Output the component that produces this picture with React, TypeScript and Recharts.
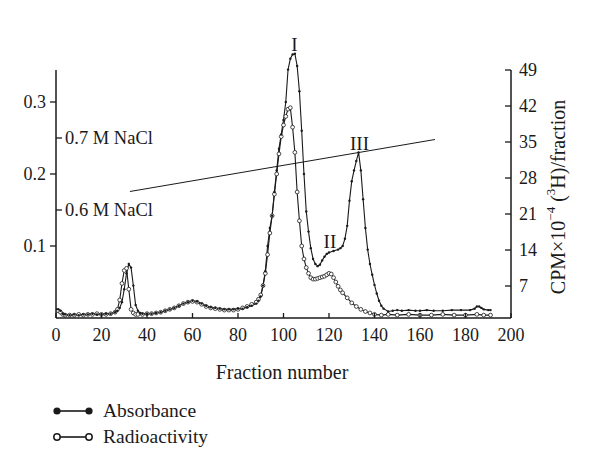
import React from 'react';
import { LineChart, Line, XAxis, YAxis, ReferenceLine, ReferenceDot } from 'recharts';

// ---- data ----
const absFraction = [0, 1, 2, 3, 4, 6, 8, 10, 12, 14, 16, 18, 20, 22, 24, 26, 27, 28, 29, 30, 31, 32, 33, 34, 35, 36, 37, 38, 40, 42, 44, 46, 48, 50, 52, 54, 56, 58, 60, 62, 64, 66, 68, 70, 72, 74, 76, 78, 80, 82, 84, 86, 88, 89, 90, 91, 92, 93, 94, 95, 96, 97, 98, 99, 100, 101, 102, 103, 104, 105, 106, 107, 108, 109, 110, 111, 112, 113, 114, 115, 116, 117, 118, 119, 120, 122, 124, 125, 126, 127, 128, 129, 130, 131, 132, 133, 134, 135, 136, 137, 138, 139, 140, 141, 142, 143, 144, 146, 148, 150, 152, 155, 158, 160, 163, 166, 170, 174, 178, 182, 184, 185, 186, 187, 188, 190, 191];
const absValue = [0.012, 0.012, 0.010, 0.006, 0.005, 0.004, 0.005, 0.004, 0.005, 0.005, 0.006, 0.005, 0.005, 0.006, 0.006, 0.008, 0.010, 0.014, 0.022, 0.040, 0.062, 0.075, 0.070, 0.045, 0.018, 0.010, 0.007, 0.006, 0.006, 0.006, 0.007, 0.008, 0.010, 0.012, 0.014, 0.017, 0.020, 0.022, 0.024, 0.023, 0.020, 0.017, 0.015, 0.014, 0.013, 0.012, 0.012, 0.012, 0.013, 0.013, 0.015, 0.017, 0.020, 0.024, 0.030, 0.045, 0.065, 0.100, 0.125, 0.142, 0.175, 0.205, 0.235, 0.255, 0.275, 0.300, 0.345, 0.360, 0.366, 0.367, 0.350, 0.315, 0.260, 0.200, 0.148, 0.120, 0.097, 0.082, 0.075, 0.072, 0.074, 0.080, 0.085, 0.089, 0.091, 0.093, 0.095, 0.097, 0.100, 0.110, 0.128, 0.163, 0.190, 0.205, 0.218, 0.230, 0.205, 0.165, 0.125, 0.095, 0.075, 0.060, 0.046, 0.034, 0.024, 0.017, 0.013, 0.009, 0.010, 0.011, 0.010, 0.011, 0.010, 0.010, 0.011, 0.010, 0.010, 0.011, 0.011, 0.011, 0.013, 0.016, 0.016, 0.014, 0.012, 0.011, 0.011];

const radFraction = [0, 1, 2, 3, 4, 6, 8, 10, 12, 14, 16, 18, 20, 22, 24, 26, 27, 28, 29, 30, 31, 32, 33, 34, 35, 36, 38, 40, 42, 44, 46, 48, 50, 52, 54, 56, 58, 60, 62, 64, 66, 68, 70, 72, 74, 76, 78, 80, 82, 84, 86, 88, 89, 90, 91, 92, 93, 94, 95, 96, 97, 98, 99, 100, 101, 102, 103, 104, 105, 106, 107, 108, 109, 110, 111, 112, 113, 114, 115, 116, 117, 118, 119, 120, 121, 122, 123, 124, 125, 126, 128, 130, 132, 134, 136, 138, 140, 143, 146, 150, 155, 160, 165, 170, 175, 180, 185, 188, 191];
const radCpm = [2.32, 2.18, 1.90, 1.48, 1.34, 1.34, 1.34, 1.48, 1.34, 1.48, 1.48, 1.62, 1.48, 1.48, 1.62, 1.90, 2.46, 4.28, 7.50, 10.02, 10.44, 6.38, 2.46, 1.76, 1.48, 1.48, 1.48, 1.62, 1.62, 1.76, 1.90, 2.18, 2.46, 2.74, 3.16, 3.58, 3.86, 4.00, 3.86, 3.44, 3.02, 2.74, 2.60, 2.46, 2.32, 2.32, 2.32, 2.46, 2.74, 3.02, 3.44, 3.86, 4.42, 5.26, 7.08, 9.46, 13.10, 17.30, 20.66, 24.86, 28.78, 32.70, 36.06, 38.30, 39.98, 41.38, 41.66, 37.88, 32.98, 25.28, 19.68, 14.78, 12.26, 10.58, 9.46, 8.62, 8.34, 8.34, 8.48, 8.62, 8.76, 8.90, 9.18, 9.46, 9.32, 8.62, 7.78, 6.94, 6.24, 5.68, 4.70, 3.72, 3.02, 2.46, 2.04, 1.76, 1.48, 1.34, 1.48, 1.34, 1.48, 1.34, 1.34, 1.48, 1.34, 1.34, 1.48, 1.34, 1.34];

const xTicks = [0, 20, 40, 60, 80, 100, 120, 140, 160, 180, 200];
const leftTicks = [0.1, 0.15, 0.2, 0.25, 0.3];
const leftTickLabels = ['0.1', '0.6 M NaCl', '0.2', '0.7 M NaCl', '0.3'];
const innerLeftTicks = [0.15, 0.25];
const rightTicks = [7, 14, 21, 28, 35, 42, 49];

const peakNames = ['I', 'II', 'III'];
const peakFraction = [104.8, 120.4, 133.4];
const peakLevel = [0.3795, 0.1063, 0.243];

const gradientFraction = [32.5, 166.6];
const gradientLevel = [0.1757, 0.2479];

const legendNames = ['Absorbance', 'Radioactivity'];

// ---- tables built from the arrays ----
const absData = absFraction.map((f, i) => ({ fraction: f, absorbance: absValue[i] }));
const radData = radFraction.map((f, i) => ({ fraction: f, radioactivity: radCpm[i] }));

const SERIF = "'Liberation Serif', 'Times New Roman', serif";
const INK = '#1a1a1a';
const FS = 18;
const txt = (size: number) => ({ fontFamily: SERIF, fontSize: size });

const XTick = (props: any) => {
  const { x, y, payload } = props;
  return (
    <g>
      <line x1={x} x2={x} y1={y} y2={y - 5} stroke={INK} strokeWidth={1.3} />
      <text x={x} y={y + 23} textAnchor="middle" style={txt(FS)} fill={INK}>
        {payload.value}
      </text>
    </g>
  );
};

const LeftTick = (props: any) => {
  const { x, y, payload } = props;
  const idx = leftTicks.indexOf(payload.value);
  const label = idx >= 0 ? leftTickLabels[idx] : String(payload.value);
  if (innerLeftTicks.includes(payload.value)) {
    return (
      <g>
        <line x1={x} x2={x + 6} y1={y} y2={y} stroke={INK} strokeWidth={1.3} />
        <text x={x + 9} y={y + 6} textAnchor="start" style={txt(FS + 0.5)} fill={INK}>
          {label}
        </text>
      </g>
    );
  }
  return (
    <g>
      <line x1={x} x2={x - 6} y1={y} y2={y} stroke={INK} strokeWidth={1.3} />
      <text x={x - 10} y={y + 6} textAnchor="end" style={txt(FS)} fill={INK}>
        {label}
      </text>
    </g>
  );
};

const RightTick = (props: any) => {
  const { x, y, payload } = props;
  return (
    <g>
      <line x1={x} x2={x - 6} y1={y} y2={y} stroke={INK} strokeWidth={1.3} />
      <text x={x + 8} y={y + 6} textAnchor="start" style={txt(FS)} fill={INK}>
        {payload.value}
      </text>
    </g>
  );
};

const RightLabel = (props: any) => {
  const vb = props.viewBox || { x: 511, y: 50, width: 89, height: 268 };
  const cx = vb.x + 47;
  const cy = 197;
  return (
    <text
      x={cx}
      y={cy}
      transform={`rotate(-90 ${cx} ${cy})`}
      textAnchor="middle"
      dominantBaseline="central"
      style={txt(20)}
      fill={INK}
    >
      CPM×10<tspan dy={-8} style={{ fontSize: 13 }}>−4</tspan>
      <tspan dy={8}> (</tspan>
      <tspan dy={-8} style={{ fontSize: 13 }}>3</tspan>
      <tspan dy={8}>H)/fraction</tspan>
    </text>
  );
};

const XLabel = (props: any) => {
  const vb = props.viewBox || { x: 56, y: 318, width: 455, height: 149 };
  return (
    <text x={282} y={vb.y + 61} textAnchor="middle" style={txt(20)} fill={INK}>
      Fraction number
    </text>
  );
};

const LegendOverlay = () => (
  <svg width={600} height={467} style={{ position: 'absolute', left: 0, top: 0, pointerEvents: 'none' }}>
    <line x1={57} x2={89} y1={411} y2={411} stroke={INK} strokeWidth={1.6} />
    <circle cx={57} cy={411} r={3.6} fill={INK} />
    <circle cx={89} cy={411} r={3.6} fill={INK} />
    <text x={103} y={417} style={txt(19.5)} fill={INK}>{legendNames[0]}</text>
    <line x1={60} x2={86} y1={437} y2={437} stroke={INK} strokeWidth={1.6} />
    <circle cx={57} cy={437} r={3.2} fill="#fff" stroke={INK} strokeWidth={1.5} />
    <circle cx={89} cy={437} r={3.2} fill="#fff" stroke={INK} strokeWidth={1.5} />
    <text x={103} y={443} style={txt(19.5)} fill={INK}>{legendNames[1]}</text>
  </svg>
);

export default function App() {
  return (
    <div style={{ position: 'relative', width: 600, height: 467, background: '#fff' }}>
      <style>{'body{margin:0;background:#fff}'}</style>
      <LineChart width={600} height={467} margin={{ top: 50, right: 0, bottom: 0, left: 0 }}>
        <XAxis
          xAxisId="x"
          dataKey="fraction"
          type="number"
          domain={[0, 200]}
          allowDataOverflow
          ticks={xTicks}
          interval={0}
          height={149}
          tickSize={0}
          tickMargin={0}
          tickLine={false}
          axisLine={{ stroke: INK, strokeWidth: 1.5 }}
          tick={<XTick />}
          label={<XLabel />}
        />
        <YAxis
          yAxisId="left"
          orientation="left"
          type="number"
          domain={[0, 0.3722]}
          allowDataOverflow
          ticks={leftTicks}
          interval={0}
          width={56}
          tickSize={0}
          tickMargin={0}
          tickLine={false}
          axisLine={false}
          tick={<LeftTick />}
        />
        <YAxis
          yAxisId="right"
          orientation="right"
          type="number"
          domain={[0.78, 52.89]}
          allowDataOverflow
          ticks={rightTicks}
          interval={0}
          width={89}
          tickSize={0}
          tickMargin={0}
          tickLine={false}
          axisLine={false}
          tick={<RightTick />}
          label={<RightLabel />}
        />
        <ReferenceLine
          xAxisId="x"
          yAxisId="left"
          segment={[{ x: 0, y: 0 }, { x: 0, y: 0.3444 }]}
          stroke={INK}
          strokeWidth={1.5}
          ifOverflow="visible"
        />
        <ReferenceLine
          xAxisId="x"
          yAxisId="left"
          segment={[{ x: 200, y: 0 }, { x: 200, y: 0.3444 }]}
          stroke={INK}
          strokeWidth={1.5}
          ifOverflow="visible"
        />
        <ReferenceLine
          xAxisId="x"
          yAxisId="left"
          segment={[
            { x: gradientFraction[0], y: gradientLevel[0] },
            { x: gradientFraction[1], y: gradientLevel[1] },
          ]}
          stroke={INK}
          strokeWidth={1}
          ifOverflow="visible"
        />
        <Line
          xAxisId="x"
          yAxisId="right"
          data={radData}
          dataKey="radioactivity"
          type="linear"
          stroke={INK}
          strokeWidth={1.1}
          dot={{ r: 1.9, fill: '#fff', stroke: INK, strokeWidth: 0.8 }}
          isAnimationActive={false}
        />
        <Line
          xAxisId="x"
          yAxisId="left"
          data={absData}
          dataKey="absorbance"
          type="linear"
          stroke={INK}
          strokeWidth={1.1}
          dot={{ r: 1.2, fill: INK, stroke: 'none' }}
          isAnimationActive={false}
        />
        {peakNames.map((name, i) => (
          <ReferenceDot
            key={name}
            xAxisId="x"
            yAxisId="left"
            x={peakFraction[i]}
            y={peakLevel[i]}
            r={0}
            fill="none"
            stroke="none"
            ifOverflow="visible"
            label={{ value: name, position: 'center', fill: INK, fontSize: 19, fontFamily: SERIF }}
          />
        ))}
      </LineChart>
      <LegendOverlay />
    </div>
  );
}
